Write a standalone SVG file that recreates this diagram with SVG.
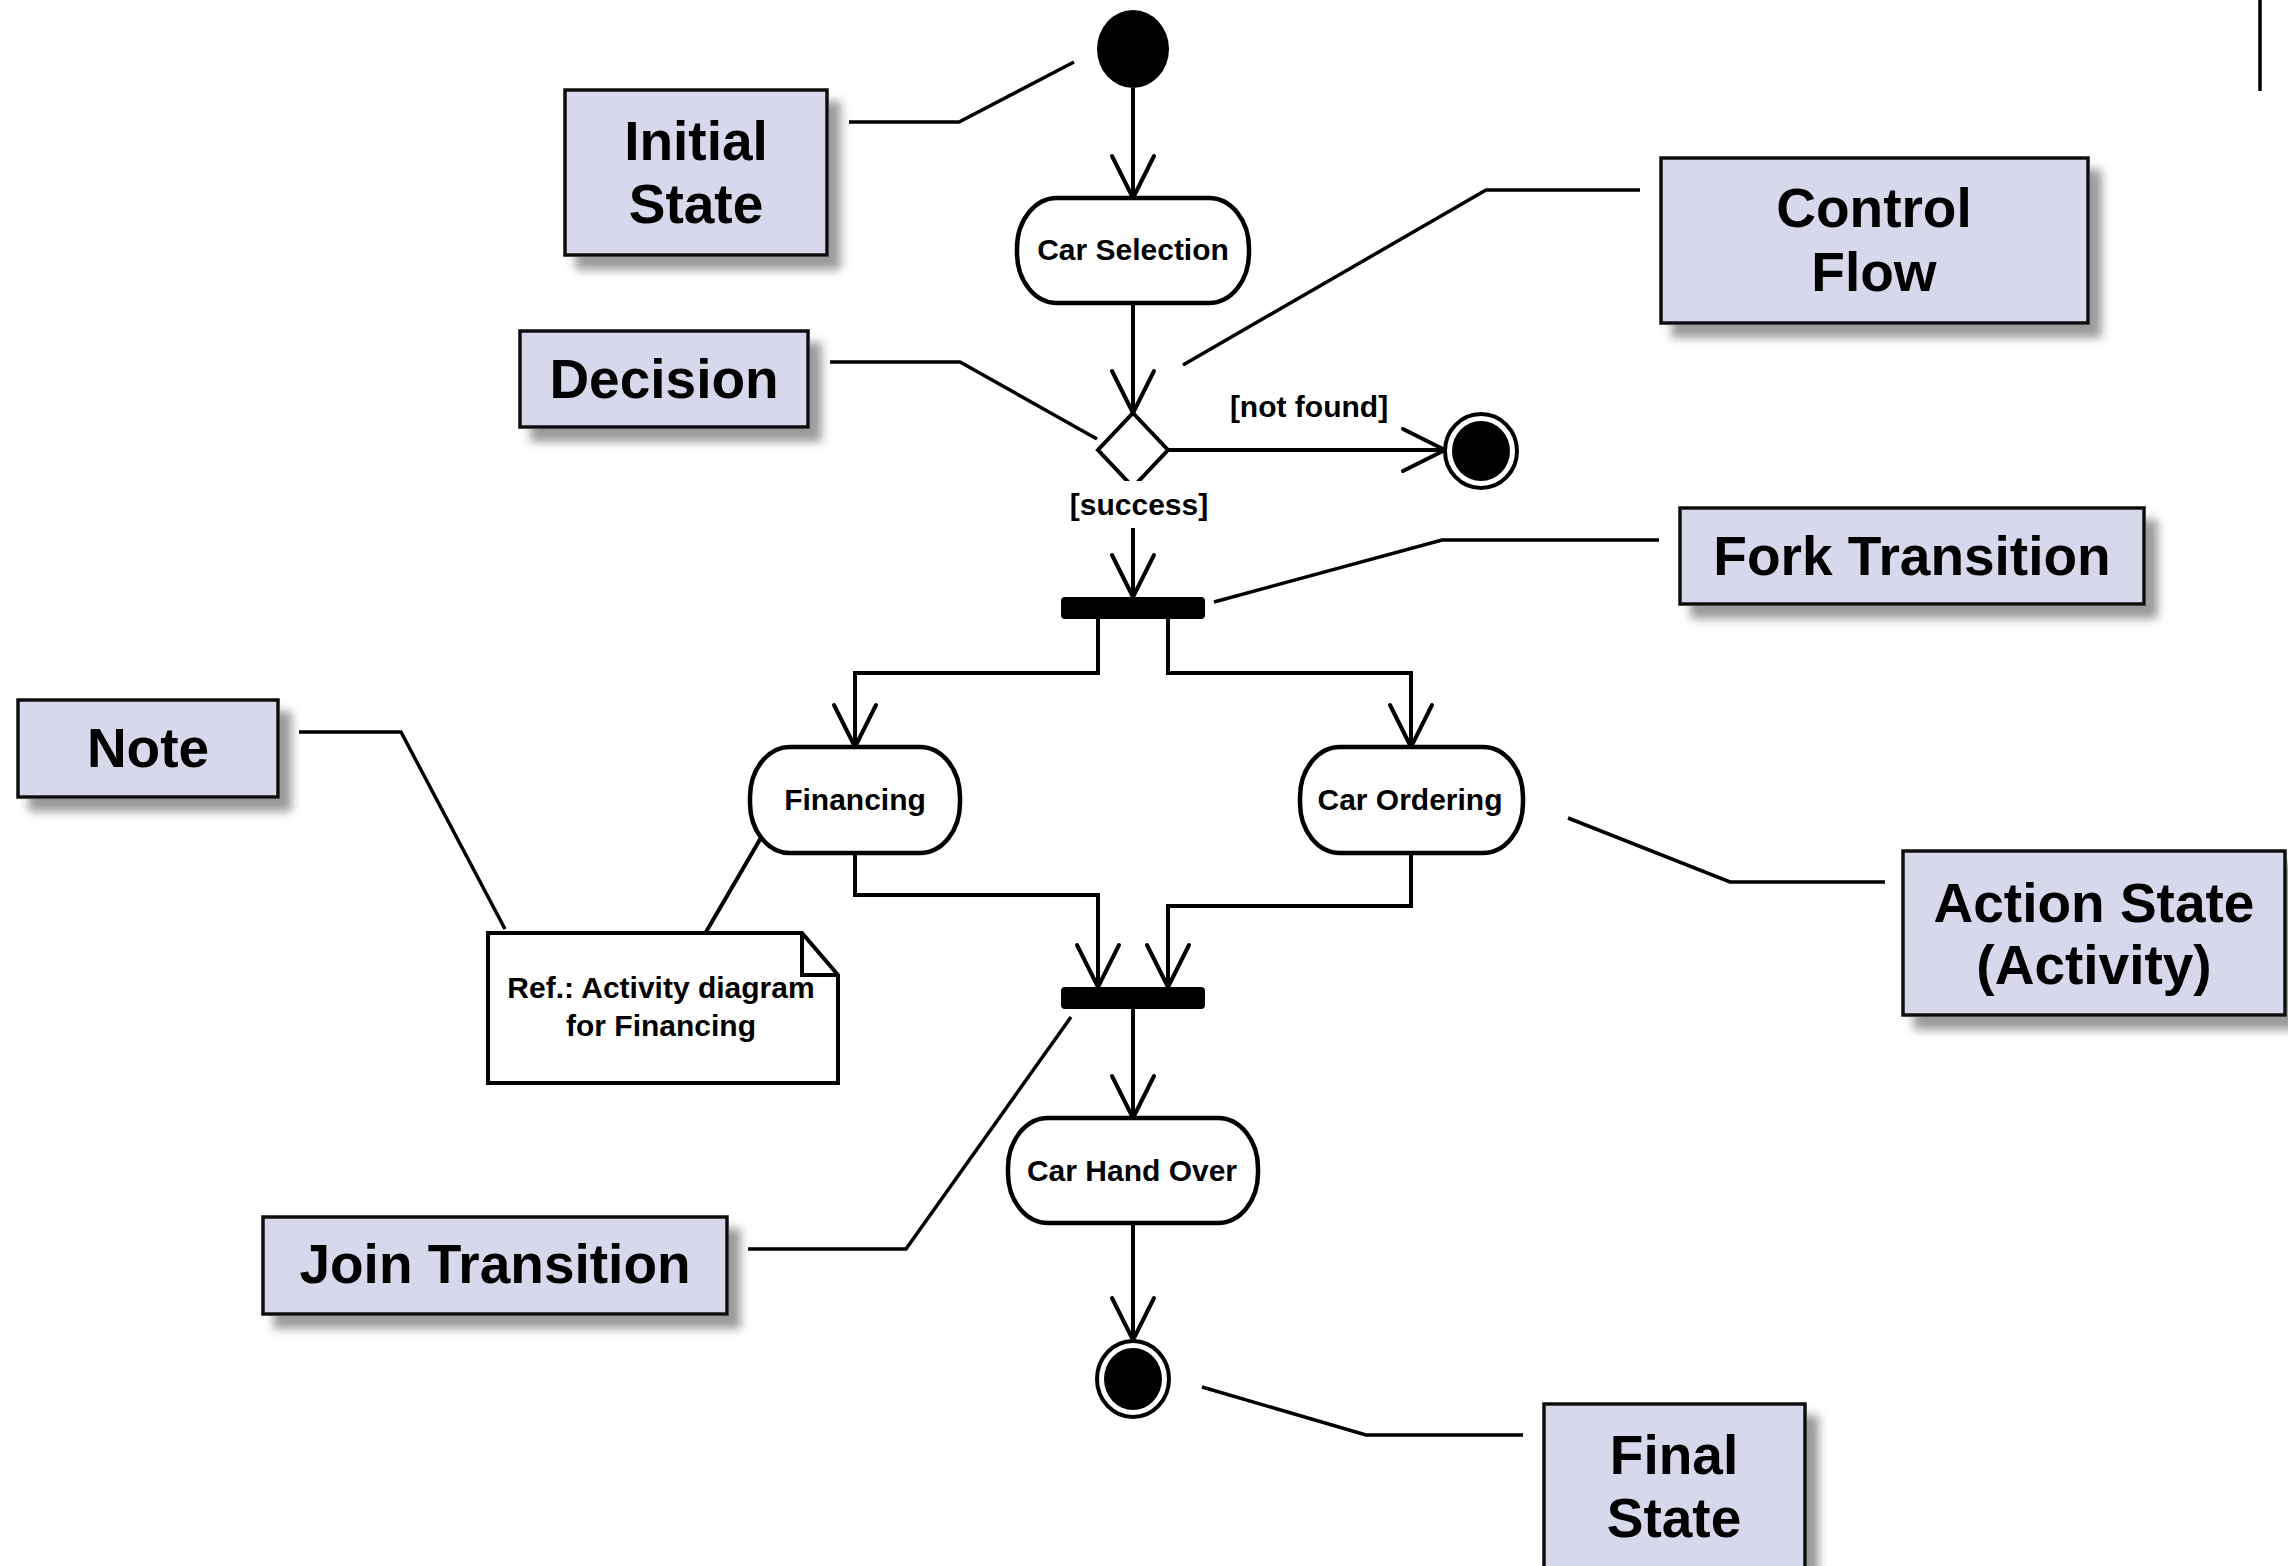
<svg xmlns="http://www.w3.org/2000/svg" width="2288" height="1566" viewBox="0 0 2288 1566">
  <defs>
    <style>
      .flow { fill: none; stroke: #000; stroke-width: 4; marker-end: url(#vee); }
      .plain { fill: none; stroke: #000; stroke-width: 4; }
      .act { fill: #fff; stroke: #000; stroke-width: 4.5; }
      .lbl { font-family: "Liberation Sans", Arial, sans-serif; font-weight: bold; font-size: 30px; fill: #000; text-anchor: middle; }
      .callout { fill: #D8D8EC; stroke: #111; stroke-width: 3.5; filter: url(#shadow); }
      .ctext { font-family: "Liberation Sans", Arial, sans-serif; font-weight: bold; font-size: 55px; fill: #000; text-anchor: middle; }
      .lead { fill: none; stroke: #000; stroke-width: 3.5; }
      .bar { fill: #000; stroke: #000; stroke-width: 2; }
    </style>
    <marker id="vee" viewBox="-50 -28 56 56" refX="0" refY="0" markerWidth="56" markerHeight="56" markerUnits="userSpaceOnUse" orient="auto">
      <path d="M-42,-21 L0,0 L-42,21" fill="none" stroke="#000" stroke-width="4" stroke-linecap="round" stroke-linejoin="round"/>
    </marker>
    <filter id="shadow" x="-10%" y="-10%" width="130%" height="140%">
      <feDropShadow dx="12" dy="13" stdDeviation="5" flood-color="#6f6f6f" flood-opacity="0.7"/>
    </filter>
  </defs>

  <rect width="2288" height="1566" fill="#fff"/>

  <!-- edge mark at top right -->
  <line x1="2260" y1="0" x2="2260" y2="91" stroke="#000" stroke-width="3.5"/>

  <!-- control flow edges -->
  <g id="connectors">
    <path class="flow" d="M1133,88 V198"/>
    <path class="flow" d="M1133,303 V413"/>
    <path class="flow" d="M1168,450 H1445"/>
    <path class="flow" d="M1133,487 V597"/>
    <path class="flow" d="M1098,619 V673 H855 V747"/>
    <path class="flow" d="M1168,619 V673 H1411 V747"/>
    <path class="flow" d="M855,853 V895 H1098 V987"/>
    <path class="flow" d="M1411,853 V906 H1168 V987"/>
    <path class="flow" d="M1133,1009 V1118"/>
    <path class="flow" d="M1133,1223 V1340"/>
    <!-- note attachment -->
    <line class="plain" x1="762" y1="836" x2="706" y2="932"/>
  </g>

  <!-- activity nodes -->
  <g id="initial">
    <ellipse cx="1133" cy="49" rx="36" ry="39" fill="#000"/>
  </g>

  <g id="car-selection">
    <rect class="act" x="1017" y="198" width="232" height="105" rx="40" ry="50"/>
    <text class="lbl" x="1133" y="260">Car Selection</text>
  </g>

  <g id="decision">
    <polygon points="1133,413 1168,450 1133,487 1098,450" fill="#fff" stroke="#000" stroke-width="4"/>
  </g>

  <g id="guard-not-found">
    <text class="lbl" x="1309" y="417">[not found]</text>
  </g>

  <g id="guard-success">
    <rect x="1064" y="481" width="150" height="47" fill="#fff"/>
    <text class="lbl" x="1139" y="515">[success]</text>
  </g>

  <g id="final-not-found">
    <ellipse cx="1481" cy="451" rx="36" ry="37" fill="#fff" stroke="#000" stroke-width="4"/>
    <ellipse cx="1481" cy="451" rx="29" ry="30" fill="#000"/>
  </g>

  <g id="fork">
    <rect class="bar" x="1062" y="598" width="142" height="20" rx="3"/>
  </g>

  <g id="financing">
    <rect class="act" x="750" y="747" width="210" height="106" rx="40" ry="50"/>
    <text class="lbl" x="855" y="810">Financing</text>
  </g>

  <g id="car-ordering">
    <rect class="act" x="1300" y="747" width="223" height="106" rx="40" ry="50"/>
    <text class="lbl" x="1410" y="810">Car Ordering</text>
  </g>

  <g id="note">
    <path d="M488,933 H802 L838,975 V1083 H488 Z" fill="#fff" stroke="#000" stroke-width="4"/>
    <path d="M802,933 V975 H838" fill="none" stroke="#000" stroke-width="4"/>
    <text class="lbl" x="661" y="998">Ref.: Activity diagram</text>
    <text class="lbl" x="661" y="1036">for Financing</text>
  </g>

  <g id="join">
    <rect class="bar" x="1062" y="988" width="142" height="20" rx="3"/>
  </g>

  <g id="car-hand-over">
    <rect class="act" x="1008" y="1118" width="250" height="105" rx="40" ry="50"/>
    <text class="lbl" x="1132" y="1181">Car Hand Over</text>
  </g>

  <g id="final">
    <ellipse cx="1133" cy="1379" rx="36" ry="38" fill="#fff" stroke="#000" stroke-width="4"/>
    <ellipse cx="1133" cy="1379" rx="29" ry="31" fill="#000"/>
  </g>

  <!-- callout leader lines -->
  <g id="leaders">
    <path class="lead" d="M849,122 H959 L1074,62"/>
    <path class="lead" d="M830,362 H960 L1097,439"/>
    <path class="lead" d="M1183,365 L1486,190 H1640"/>
    <path class="lead" d="M1214,602 L1442,540 H1659"/>
    <path class="lead" d="M299,732 H401 L505,929"/>
    <path class="lead" d="M1568,818 L1730,882 H1885"/>
    <path class="lead" d="M748,1249 H906 L1071,1017"/>
    <path class="lead" d="M1202,1387 L1366,1435 H1523"/>
  </g>

  <!-- callouts -->
  <g id="callout-initial-state">
    <rect class="callout" x="565" y="90" width="262" height="165"/>
    <text class="ctext" x="696" y="160">Initial</text>
    <text class="ctext" x="696" y="223">State</text>
  </g>

  <g id="callout-decision">
    <rect class="callout" x="520" y="331" width="288" height="96"/>
    <text class="ctext" x="664" y="398">Decision</text>
  </g>

  <g id="callout-control-flow">
    <rect class="callout" x="1661" y="158" width="427" height="165"/>
    <text class="ctext" x="1874" y="227">Control</text>
    <text class="ctext" x="1874" y="291">Flow</text>
  </g>

  <g id="callout-fork">
    <rect class="callout" x="1680" y="508" width="464" height="96"/>
    <text class="ctext" x="1912" y="575">Fork Transition</text>
  </g>

  <g id="callout-note">
    <rect class="callout" x="18" y="700" width="260" height="97"/>
    <text class="ctext" x="148" y="767">Note</text>
  </g>

  <g id="callout-action-state">
    <rect class="callout" x="1903" y="851" width="382" height="164"/>
    <text class="ctext" x="2094" y="922">Action State</text>
    <text class="ctext" x="2094" y="984">(Activity)</text>
  </g>

  <g id="callout-join">
    <rect class="callout" x="263" y="1217" width="464" height="97"/>
    <text class="ctext" x="495" y="1283">Join Transition</text>
  </g>

  <g id="callout-final-state">
    <rect class="callout" x="1544" y="1404" width="261" height="190"/>
    <text class="ctext" x="1674" y="1474">Final</text>
    <text class="ctext" x="1674" y="1537">State</text>
  </g>
</svg>
